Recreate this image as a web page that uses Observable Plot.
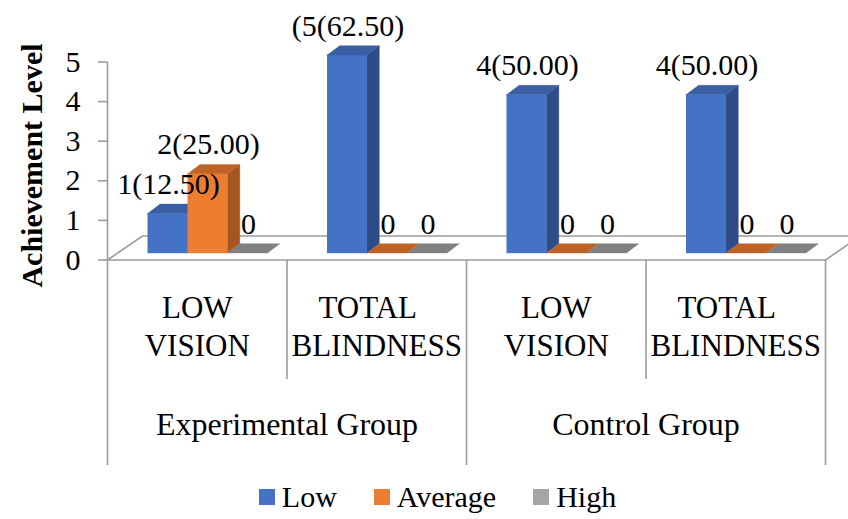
<!DOCTYPE html>
<html>
<head>
<meta charset="utf-8">
<script src="https://cdn.jsdelivr.net/npm/d3@7"></script>
<script src="https://cdn.jsdelivr.net/npm/@observablehq/plot@0.6"></script>
<style>
  html, body { margin: 0; padding: 0; background: #ffffff; }
  body { width: 848px; height: 519px; overflow: hidden; font-family: "Liberation Serif", Tinos, "Times New Roman", Times, "DejaVu Serif", serif; }
  #chart svg { display: block; }
  #chart svg text { font-family: "Liberation Serif", Tinos, "Times New Roman", Times, "DejaVu Serif", serif; }
  #legend { display: flex; justify-content: center; align-items: center; height: 44px; padding-left: 27px; font-size: 30px; color: #000; }
  #legend .item { display: flex; align-items: center; }
  #legend .sw { width: 16px; height: 16px; margin-right: 7px; }
  #legend .item + .item { margin-left: 37px; }
</style>
</head>
<body>
<div id="chart"></div>
<div id="legend"></div>
<script>
// ---- data ----
const groups = ["Experimental Group", "Control Group"];
const subgroups = ["LOW VISION", "TOTAL BLINDNESS", "LOW VISION", "TOTAL BLINDNESS"];
const seriesNames = ["Low", "Average", "High"];
const lowValues = [1, 5, 4, 4];
const averageValues = [2, 0, 0, 0];
const highValues = [0, 0, 0, 0];
const lowLabels = ["1(12.50)", "(5(62.50)", "4(50.00)", "4(50.00)"];
const averageLabels = ["2(25.00)", "0", "0", "0"];
const highLabels = ["0", "0", "0", "0"];
const yTicks = [0, 1, 2, 3, 4, 5];
const yTitle = "Achievement Level";

// ---- styling ----
const frontColors = ["#4472C4", "#ED7D31", "#A5A5A5"];
const sideColors = ["#2E4D88", "#A3561F", "#7A7A7A"];
const topColors = ["#3A5FA3", "#BF6226", "#808080"];
const gridColor = "#9c9c9c";
const FONT = "Liberation Serif, Tinos, Times New Roman, Times, DejaVu Serif, serif";

// ---- layout (pixels) ----
const W = 848, H = 475;
const XL = 107, XR = 825, Y0 = 259.5, Y5 = 61.5;
const pxX = subgroups.length / (XR - XL);
const pxY = 5 / (Y0 - Y5);
const BW = 40 * pxX;        // bar width
const DX = 12.3 * pxX;      // bar depth (x)
const DY = 9.3 * pxY;       // bar depth (y)
const FDX = 35 * pxX;       // floor depth (x)
const FDY = 24 * pxY;       // floor depth (y)
const BASE = -7;            // bars sit slightly behind the axis zero

const values = [lowValues, averageValues, highValues];
const labels = [lowLabels, averageLabels, highLabels];

// build face polygons from values
const faces = [];
const barLabels = [];
let pid = 0;
subgroups.forEach((sg, i) => {
  seriesNames.forEach((s, j) => {
    const v = values[j][i];
    const x1 = i + (1 + j) * BW, x2 = x1 + BW;
    const poly = (pts, color) => { pid++; pts.forEach(([x, y]) => faces.push({id: pid, x, y, color})); };
    if (v > 0) {
      poly([[x1, 0], [x2, 0], [x2, v], [x1, v]], frontColors[j]);
      poly([[x2, 0], [x2 + DX, DY], [x2 + DX, v + DY], [x2, v]], sideColors[j]);
    }
    poly([[x1, v], [x2, v], [x2 + DX, v + DY], [x1 + DX, v + DY]], topColors[j]);
    barLabels.push({x: (x1 + x2) / 2, y: v, text: labels[j][i]});
  });
});

const n = subgroups.length;
const floor = [[0, 0], [n, 0], [n + FDX, FDY], [FDX, FDY], [0, 0]].map(([x, y]) => ({x, y}));
const separators = d3.range(n + 1).map(k => ({x: k, outer: k % 2 === 0}));
const catCenters = subgroups.map((s, i) => ({x: i + 0.5, l1: s.split(" ")[0], l2: s.split(" ").slice(1).join(" ")}));
const groupCenters = groups.map((g, k) => ({x: 2 * k + 1, text: g}));
const yOuter = -(465 - Y0) * pxY;
const yInner = -(379 - Y0) * pxY;
const titlePos = [{x: (32 - XL) * pxX, y: (Y0 - 165) * pxY, text: yTitle}];

const plot = Plot.plot({
  width: W,
  height: H,
  marginLeft: XL,
  marginRight: W - XR,
  marginTop: Y5,
  marginBottom: H - Y0,
  style: {fontFamily: FONT, background: "#ffffff", color: "#000"},
  x: {domain: [0, n], axis: null},
  y: {domain: [0, 5]},
  color: {type: "identity"},
  marks: [
    Plot.line(floor, {x: "x", y: "y", fill: "#ffffff", stroke: gridColor, strokeWidth: 1.6}),
    Plot.ruleX([0], {y1: 0, y2: 5, stroke: gridColor, strokeWidth: 1.6}),
    Plot.axisY({ticks: yTicks, tickFormat: d => String(d), tickSize: 9, tickPadding: 18, stroke: gridColor, strokeWidth: 1.6, fill: "#000", fontSize: 30, fontFamily: FONT, label: null}),
    Plot.line(faces, {x: "x", y: "y", z: "id", fill: "color", stroke: "color", strokeWidth: 0.4, dy: BASE}),
    Plot.ruleX(separators, {x: "x", y1: 0, y2: d => d.outer ? yOuter : yInner, stroke: gridColor, strokeWidth: 1.6}),
    Plot.text(catCenters.filter(d => d.l1 !== "TOTAL"), {x: "x", y: 0, text: "l1", dy: 57.5, lineAnchor: "bottom", fontSize: 31, fontFamily: FONT, fill: "#000"}),
    Plot.text(catCenters.filter(d => d.l1 === "TOTAL"), {x: "x", y: 0, text: "l1", dy: 57.5, dx: -9, lineAnchor: "bottom", fontSize: 31, fontFamily: FONT, fill: "#000"}),
    Plot.text(catCenters, {x: "x", y: 0, text: "l2", dy: 95.5, lineAnchor: "bottom", fontSize: 31, fontFamily: FONT, fill: "#000"}),
    Plot.text(groupCenters, {x: "x", y: 0, text: "text", dy: 175, lineAnchor: "bottom", fontSize: 32, fontFamily: FONT, fill: "#000"}),
    Plot.text(barLabels, {x: "x", y: "y", text: "text", dy: BASE - 29, dx: 1, lineAnchor: "middle", fontSize: 30, fontFamily: FONT, fill: "#000"}),
    Plot.text(titlePos, {x: "x", y: "y", text: "text", rotate: -90, textAnchor: "middle", lineAnchor: "middle", fontSize: 30, fontWeight: "bold", fontFamily: FONT, fill: "#000"})
  ]
});
document.getElementById("chart").appendChild(plot);

// legend
const legend = d3.select("#legend");
seriesNames.forEach((s, j) => {
  const item = legend.append("div").attr("class", "item");
  item.append("div").attr("class", "sw").style("background", frontColors[j]);
  item.append("span").text(s);
});
</script>
</body>
</html>
